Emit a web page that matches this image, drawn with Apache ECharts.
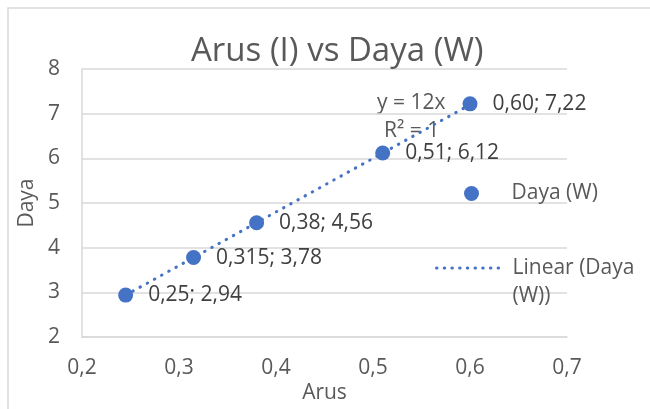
<!DOCTYPE html>
<html><head><meta charset="utf-8">
<script src="https://cdn.jsdelivr.net/npm/echarts@6/dist/echarts.min.js"></script>
<style>html,body{margin:0;padding:0;background:#fff}#c{width:650px;height:409px}</style>
</head><body><div id="c"></div>
<script>
var arus = [0.245, 0.315, 0.38, 0.51, 0.6];
var daya = [2.94, 3.78, 4.56, 6.12, 7.22];
var pointLabels = ['0,25; 2,94', '0,315; 3,78', '0,38; 4,56', '0,51; 6,12', '0,60; 7,22'];
var trendX = [0.245, 0.6];
var trendY = [2.94, 7.2];
var xTicks = {min: 0.2, max: 0.7, step: 0.1};
var yTicks = {min: 2, max: 8, step: 1};
var titleText = 'Arus (I) vs Daya (W)';
var seriesName = 'Daya (W)';
var trendName = 'Linear (Daya (W))';
var eqText = 'y = 12x';
var r2Text = 'R² = 1';

var FONT = 'Open Sans';
var TXT = '#595959';
var BLUE = '#4472C4';
var chart = echarts.init(document.getElementById('c'), null, {renderer: 'canvas'});
var scatterData = arus.map(function (x, i) { return [x, daya[i]]; });
var trendData = trendX.map(function (x, i) { return [x, trendY[i]]; });

chart.setOption({
  animation: false,
  backgroundColor: '#fff',
  title: {text: titleText, left: 186, top: 30, itemGap: 0,
    textStyle: {fontFamily: FONT, fontSize: 33, fontWeight: 'normal', color: TXT}},
  grid: {left: 82, right: 83, top: 69, bottom: 70},
  xAxis: {type: 'value', min: xTicks.min, max: xTicks.max, interval: xTicks.step,
    name: 'Arus', nameLocation: 'middle', nameGap: 42,
    nameTextStyle: {fontFamily: FONT, fontSize: 21, color: TXT},
    axisLine: {show: true, lineStyle: {color: '#d9d9d9', width: 1.5}},
    axisTick: {show: false}, splitLine: {show: false},
    axisLabel: {margin: 20, fontFamily: FONT, fontSize: 21, color: TXT,
      formatter: function (v) { return v.toFixed(1).replace('.', ','); }}},
  yAxis: {type: 'value', min: yTicks.min, max: yTicks.max, interval: yTicks.step,
    name: 'Daya', nameLocation: 'middle', nameGap: 37,
    nameTextStyle: {fontFamily: FONT, fontSize: 21, color: TXT},
    axisLine: {show: true, lineStyle: {color: '#d9d9d9', width: 1.5}},
    axisTick: {show: false},
    splitLine: {show: true, lineStyle: {color: '#d9d9d9', width: 1.5}},
    axisLabel: {margin: 22, fontFamily: FONT, fontSize: 21, color: TXT}},
  legend: [{
    data: [seriesName], orient: 'vertical', left: 459, top: 178,
    itemWidth: 70, itemHeight: 15, itemGap: 5,
    textStyle: {fontFamily: FONT, fontSize: 21, color: TXT}
  }, {
    data: [trendName], orient: 'vertical', left: 430, top: 221,
    itemWidth: 66, itemHeight: 16,
    itemStyle: {opacity: 0},
    lineStyle: {width: 3, type: [0.5, 7.2], cap: 'round', color: BLUE},
    formatter: function (n) { return '\n' + n.replace('(Daya (W))', '(Daya\n(W))'); },
    textStyle: {fontFamily: FONT, fontSize: 21, color: TXT, lineHeight: 28, padding: [0, 0, 0, 5]}
  }],
  graphic: [
    {type: 'rect', shape: {x: 8, y: 8, width: 700, height: 500}, style: {fill: 'none', stroke: '#d9d9d9', lineWidth: 1.5}, silent: true},
    {type: 'text', left: 377, top: 93, style: {text: eqText, font: '21px "Open Sans"', fill: TXT}},
    {type: 'text', left: 384, top: 121, style: {text: r2Text, font: '21px "Open Sans"', fill: TXT}}
  ],
  series: [{
    name: trendName, type: 'line', data: trendData, symbol: 'none', z: 2,
    lineStyle: {color: BLUE, width: 3, type: [0.5, 7.7], cap: 'round'},
    itemStyle: {color: BLUE}
  }, {
    name: seriesName, type: 'scatter', data: scatterData, symbolSize: 15, z: 3,
    itemStyle: {color: BLUE, opacity: 1},
    label: {show: true, position: 'right', distance: 15, fontFamily: FONT, fontSize: 21, color: '#404040',
      formatter: function (p) { return pointLabels[p.dataIndex]; }}
  }]
});
</script></body></html>
